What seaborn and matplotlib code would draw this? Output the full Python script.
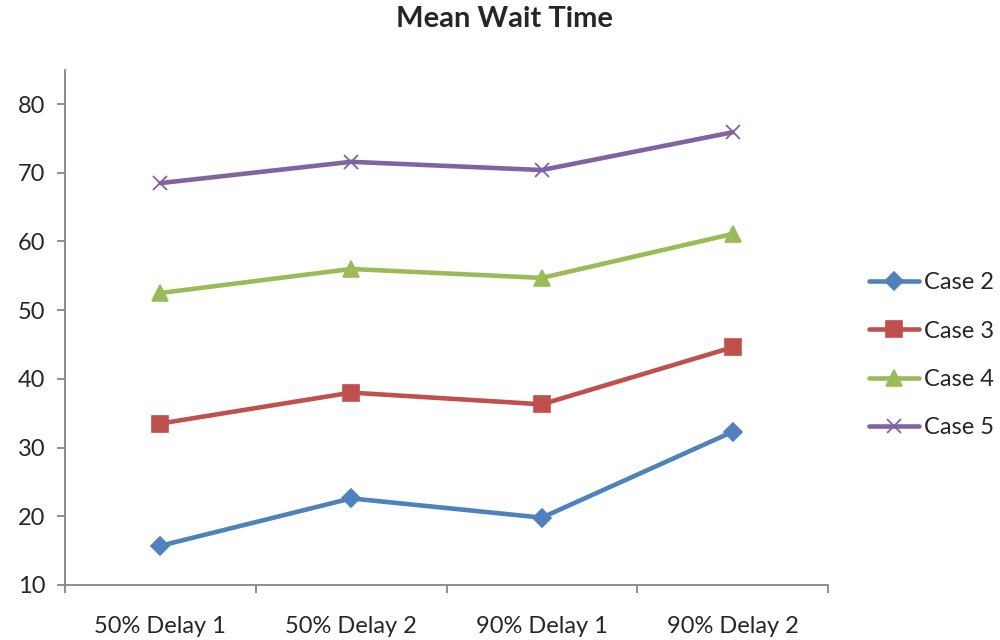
import matplotlib
matplotlib.use("Agg")
import matplotlib.pyplot as plt
import seaborn as sns
import pandas as pd
from matplotlib.ticker import FixedLocator

categories = ["50% Delay 1", "50% Delay 2", "90% Delay 1", "90% Delay 2"]
case2 = [15.7, 22.6, 19.8, 32.3]
case3 = [33.5, 38.0, 36.3, 44.6]
case4 = [52.5, 56.0, 54.7, 61.1]
case5 = [68.5, 71.6, 70.4, 75.9]
series_names = ["Case 2", "Case 3", "Case 4", "Case 5"]
y_ticks = [10, 20, 30, 40, 50, 60, 70, 80]

colors = ["#4F81BD", "#C0504D", "#9BBB59", "#8064A2"]
markers = ["D", "s", "^", "x"]
marker_sizes = [9, 11, 11, 10]

rows = []
for name, vals in zip(series_names, [case2, case3, case4, case5]):
    for cat, v in zip(categories, vals):
        rows.append({"Category": cat, "Value": v, "Series": name})
df = pd.DataFrame(rows)

sns.set_style("white")
plt.rcParams["font.family"] = ["Lato", "DejaVu Sans"]

fig = plt.figure(figsize=(10, 6.4), dpi=100)
ax = fig.add_axes([0.065, 0.086, 0.763, 0.805])

for name, c, m, ms in zip(series_names, colors, markers, marker_sizes):
    sub = df[df["Series"] == name]
    sns.lineplot(data=sub, x="Category", y="Value", ax=ax, color=c,
                 marker=m, markersize=ms, linewidth=3.3, label=name,
                 markeredgecolor=c, markeredgewidth=1.2 if m != "x" else 1.3,
                 sort=False)

ax.set_xlim(-0.5, 3.5)
ax.set_ylim(10, 85)
ax.set_yticks(y_ticks)
ax.set_xticks(range(len(categories)))
ax.set_xticklabels(categories)
ax.xaxis.set_minor_locator(FixedLocator([-0.5, 0.5, 1.5, 2.5, 3.5]))
ax.tick_params(axis="x", which="major", length=0, pad=22, labelsize=17, bottom=True)
ax.tick_params(axis="x", which="minor", length=6, width=1.3, color="#868686",
               direction="out", bottom=True)
ax.tick_params(axis="y", which="major", length=6, width=1.3, color="#868686",
               direction="out", labelsize=17, pad=8, left=True)
ax.set_xlabel("")
ax.set_ylabel("")
for side in ["top", "right"]:
    ax.spines[side].set_visible(False)
for side in ["left", "bottom"]:
    ax.spines[side].set_color("#868686")
    ax.spines[side].set_linewidth(1.3)
ax.grid(False)

ax.get_legend().remove()
handles, labels = ax.get_legend_handles_labels()
fig.legend(handles, labels, loc="center left", bbox_to_anchor=(0.848, 0.445),
           frameon=False, fontsize=17, handlelength=2.1, handletextpad=0.2,
           labelspacing=1.15)

fig.suptitle("Mean Wait Time", x=0.504, y=0.99, fontsize=21, fontweight="bold")

fig.savefig("out.png", dpi=100)
